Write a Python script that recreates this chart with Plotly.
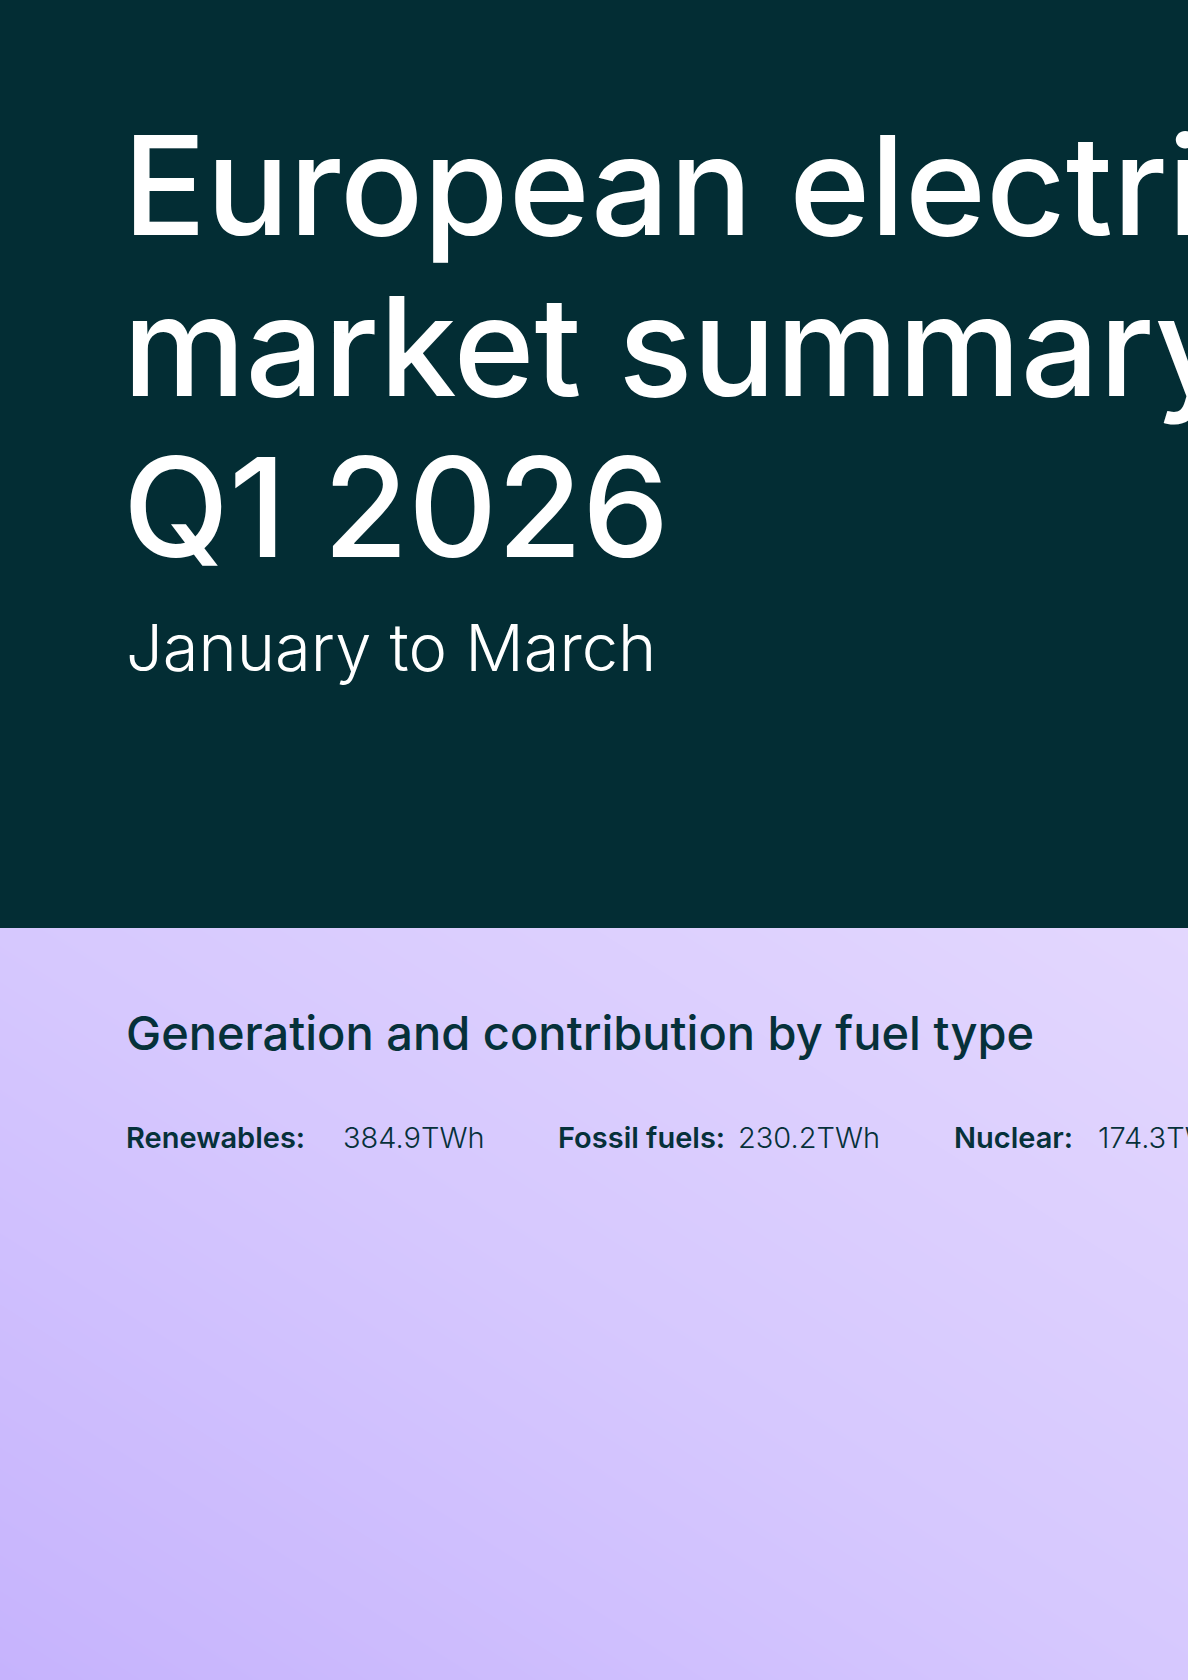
# Q1 2026 European electricity summary - header card
import plotly.graph_objects as go

W, H = 1188, 1680

title_lines = ["European electricity", "market summary", "Q1 2026"]
period = "January to March"
section_title = "Generation and contribution by fuel type"
fuel_types = ["Renewables", "Fossil fuels", "Nuclear"]
generation_twh = [384.9, 230.2, 174.3]
unit = "TWh"

DARK = "#032d34"
INK = "#06313a"
FONT = "Inter"


def py(px):
    # pixel row from top -> paper y
    return 1 - px / H


def px_x(px):
    return px / W


fig = go.Figure()

# lavender diagonal wash behind the lower section
split = 928
fig.add_trace(go.Heatmap(
    z=[[0.0, 0.5], [0.5, 1.0]],
    x=[0, 1], y=[0, 1],
    colorscale=[[0, "#c6b3fd"], [0.5, "#d6c8fe"], [1, "#e3d7fe"]],
    zsmooth="best", showscale=False, hoverinfo="skip",
    xaxis="x", yaxis="y",
))

annotations = []

# big title, one annotation per line so the leading can be tight
title_fs = 138
for i, line in enumerate(title_lines):
    base = 234 + i * 161
    annotations.append(dict(
        text=line, x=px_x(121), y=py(base - 0.36 * title_fs),
        font=dict(family=FONT, size=title_fs, color="white", weight=500),
    ))

annotations.append(dict(
    text=period, x=px_x(124), y=py(671 - 0.36 * 65),
    font=dict(family=FONT, size=65, color="white", weight=300),
))

annotations.append(dict(
    text=section_title, x=px_x(124), y=py(1049 - 0.36 * 47),
    font=dict(family=FONT, size=47, color=INK, weight=500),
))

# summary row
label_x = [124, 556, 952]
value_x = [341, 736, 1096]
stat_y = py(1148 - 0.36 * 29)
for name, val, lx, vx in zip(fuel_types, generation_twh, label_x, value_x):
    annotations.append(dict(
        text=f"{name}:", x=px_x(lx), y=stat_y,
        font=dict(family=FONT, size=29, color=INK, weight=600),
    ))
    annotations.append(dict(
        text=f"{val:.1f}{unit}", x=px_x(vx), y=stat_y,
        font=dict(family=FONT, size=29, color=INK, weight=300),
    ))

for a in annotations:
    a.update(xref="paper", yref="paper", xanchor="left", yanchor="middle",
             showarrow=False, align="left")

fig.update_layout(
    width=W, height=H,
    margin=dict(l=0, r=0, t=0, b=0),
    paper_bgcolor=DARK,
    plot_bgcolor=DARK,
    showlegend=False,
    annotations=annotations,
    xaxis=dict(domain=[0, 1], range=[0, 1], visible=False, fixedrange=True),
    yaxis=dict(domain=[0, 1 - split / H], range=[0, 1], visible=False, fixedrange=True),
)

fig.write_html("out.html", config={"displayModeBar": False},
               post_script="document.body.style.margin='0';")
